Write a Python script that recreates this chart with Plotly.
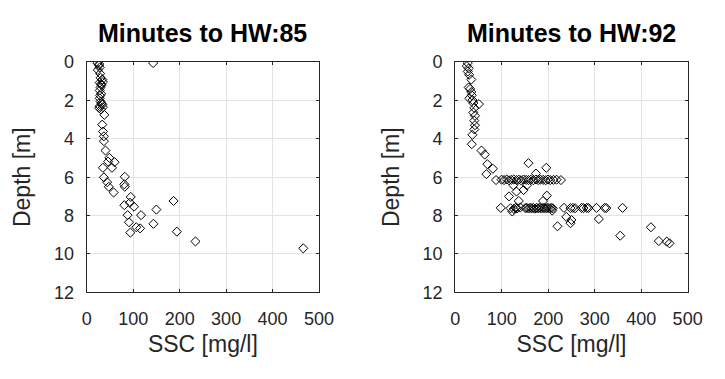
import plotly.graph_objects as go

# ---- Data: Minutes to HW 85 ----
ssc_85 = [23, 27, 26.5, 28, 24, 29, 30, 33.5, 35, 28, 31, 32, 30, 28, 31, 29, 28, 30, 32, 33.5, 28, 35, 27, 31, 38,
          143,
          33.5, 35, 37, 37, 40.5, 48.8, 46, 60, 54.4, 35, 37, 44, 47.5, 58, 82, 81, 82, 94.8, 81, 93, 101.8,
          88, 117, 91, 106.7, 115, 94, 143.6, 150, 186.9, 194, 234, 466]
depth_85 = [0.05, 0.1, 0.16, 0.28, 0.41, 0.6, 0.82, 0.91, 1.04, 1.07, 1.15, 1.2, 1.32, 1.48, 1.65, 1.75, 1.89, 2.06, 2.15, 2.22, 2.3, 2.35, 2.4, 2.47, 2.75,
            0.05,
            3.26, 3.62, 3.87, 4.12, 4.61, 4.99, 5.19, 5.22, 5.51, 5.51, 6.01, 6.26, 6.5, 6.8, 5.98, 6.37, 6.5, 7.03, 7.46, 7.33, 7.54,
            7.98, 7.98, 8.35, 8.61, 8.67, 8.89, 8.43, 7.69, 7.24, 8.84, 9.35, 9.71]

# ---- Data: Minutes to HW 92 ----
ssc_92 = [27, 25, 29, 27, 30, 34.5, 29, 32, 34.5, 35.6, 30.4, 37, 39, 51, 41, 39, 42.5, 41, 42.5, 41, 37, 35.6,
          56.5, 63.5, 69, 81, 67,
          # band near 6.1 m
          87.8, 99.7, 105, 110.8, 115.7, 120.6, 126, 131.8, 136.7, 141.6, 147, 152.7, 157.6, 162.5, 168, 173.6,
          178.5, 183.4, 189, 194.5, 199.5, 204.4, 211.3, 218, 227.4,
          # scattered
          157.6, 196, 173.6, 125, 154, 115.7, 131.8, 147, 136.7, 197, 189, 208.6, 122.8, 220, 239, 248, 250,
          309, 355, 421, 438, 455, 461,
          # band near 7.6 m
          98, 119, 126, 129.7, 133, 140, 150.6, 154, 157.6, 161, 164.6, 168, 171.5, 175, 178.5, 182, 185.5,
          189, 192.5, 196, 199.5, 203, 206.4, 209.9, 234, 248, 253, 258, 272, 276, 283, 286.6, 304, 321.5, 325, 360]
depth_92 = [0.05, 0.21, 0.33, 0.49, 0.66, 0.91, 1.32, 1.4, 1.56, 1.73, 1.89, 1.98, 2.14, 2.19, 2.39, 2.63, 2.8, 3.05, 3.29, 3.51, 3.79, 4.28,
            4.61, 4.82, 5.32, 5.56, 5.84,
            6.15, 6.13, 6.15, 6.12, 6.16, 6.14, 6.12, 6.15, 6.13, 6.16, 6.12, 6.14, 6.15, 6.13, 6.16, 6.12,
            6.15, 6.13, 6.14, 6.16, 6.12, 6.15, 6.14, 6.13, 6.15,
            5.27, 5.51, 5.81, 6.42, 6.42, 7.0, 6.75, 6.67, 7.24, 6.96, 7.24, 7.74, 7.79, 8.56, 8.07, 8.4, 8.23,
            8.18, 9.05, 8.61, 9.33, 9.36, 9.45,
            7.6, 7.62, 7.65, 7.6, 7.63, 7.58, 7.61, 7.6, 7.63, 7.6, 7.62, 7.6, 7.64, 7.6, 7.62, 7.6, 7.63,
            7.6, 7.61, 7.62, 7.6, 7.63, 7.6, 7.62, 7.6, 7.61, 7.6, 7.62, 7.6, 7.61, 7.6, 7.61, 7.6, 7.6, 7.61, 7.6]

titles = ["Minutes to HW:85", "Minutes to HW:92"]
x_ticks = [0, 100, 200, 300, 400, 500]
y_ticks = [0, 2, 4, 6, 8, 10, 12]

W, H = 725, 379
FONT = "Liberation Sans, Arial, sans-serif"
AX_COLOR = "#262626"

fig = go.Figure()
marker = dict(symbol="diamond-open", size=7, color="black", line=dict(width=1, color="black"))
fig.add_trace(go.Scatter(x=ssc_85, y=depth_85, mode="markers", marker=marker, xaxis="x", yaxis="y", showlegend=False))
fig.add_trace(go.Scatter(x=ssc_92, y=depth_92, mode="markers", marker=marker, xaxis="x2", yaxis="y2", showlegend=False))

left_dom = [84 / W, 323 / W]
right_dom = [463 / W, 702 / W]
y_dom = [(H - 298) / H, (H - 55) / H]

def xaxis(dom, anchor):
    return dict(domain=dom, anchor=anchor, range=[0, 500], tickvals=x_ticks,
                showline=True, linecolor=AX_COLOR, linewidth=1, mirror="allticks",
                ticks="inside", ticklen=3, tickcolor=AX_COLOR,
                showgrid=True, gridcolor="#e3e3e3", gridwidth=1, zeroline=False,
                tickfont=dict(family=FONT, size=18, color=AX_COLOR), ticklabelstandoff=10,
                title=dict(text="SSC [mg/l]", font=dict(family=FONT, size=23, color=AX_COLOR), standoff=8))

def yaxis(anchor):
    return dict(domain=y_dom, anchor=anchor, range=[12, 0], tickvals=y_ticks,
                showline=True, linecolor=AX_COLOR, linewidth=1, mirror="allticks",
                ticks="inside", ticklen=3, tickcolor=AX_COLOR,
                showgrid=True, gridcolor="#e3e3e3", gridwidth=1, zeroline=False,
                tickfont=dict(family=FONT, size=18, color=AX_COLOR), ticklabelstandoff=8,
                title=dict(text="Depth [m]", font=dict(family=FONT, size=23, color=AX_COLOR), standoff=16))

fig.update_layout(
    width=W, height=H,
    margin=dict(l=0, r=0, t=0, b=0),
    paper_bgcolor="white", plot_bgcolor="white",
    xaxis=xaxis(left_dom, "y"), yaxis=yaxis("x"),
    xaxis2=xaxis(right_dom, "y2"), yaxis2=yaxis("x2"),
)

for dom, t in zip([left_dom, right_dom], titles):
    fig.add_annotation(text="<b>" + t + "</b>", x=(dom[0] + dom[1]) / 2, y=1 - 24 / H,
                       xref="paper", yref="paper", showarrow=False, xanchor="center", yanchor="middle",
                       font=dict(family=FONT, size=25, color="black"))

fig.write_html("out.html")
